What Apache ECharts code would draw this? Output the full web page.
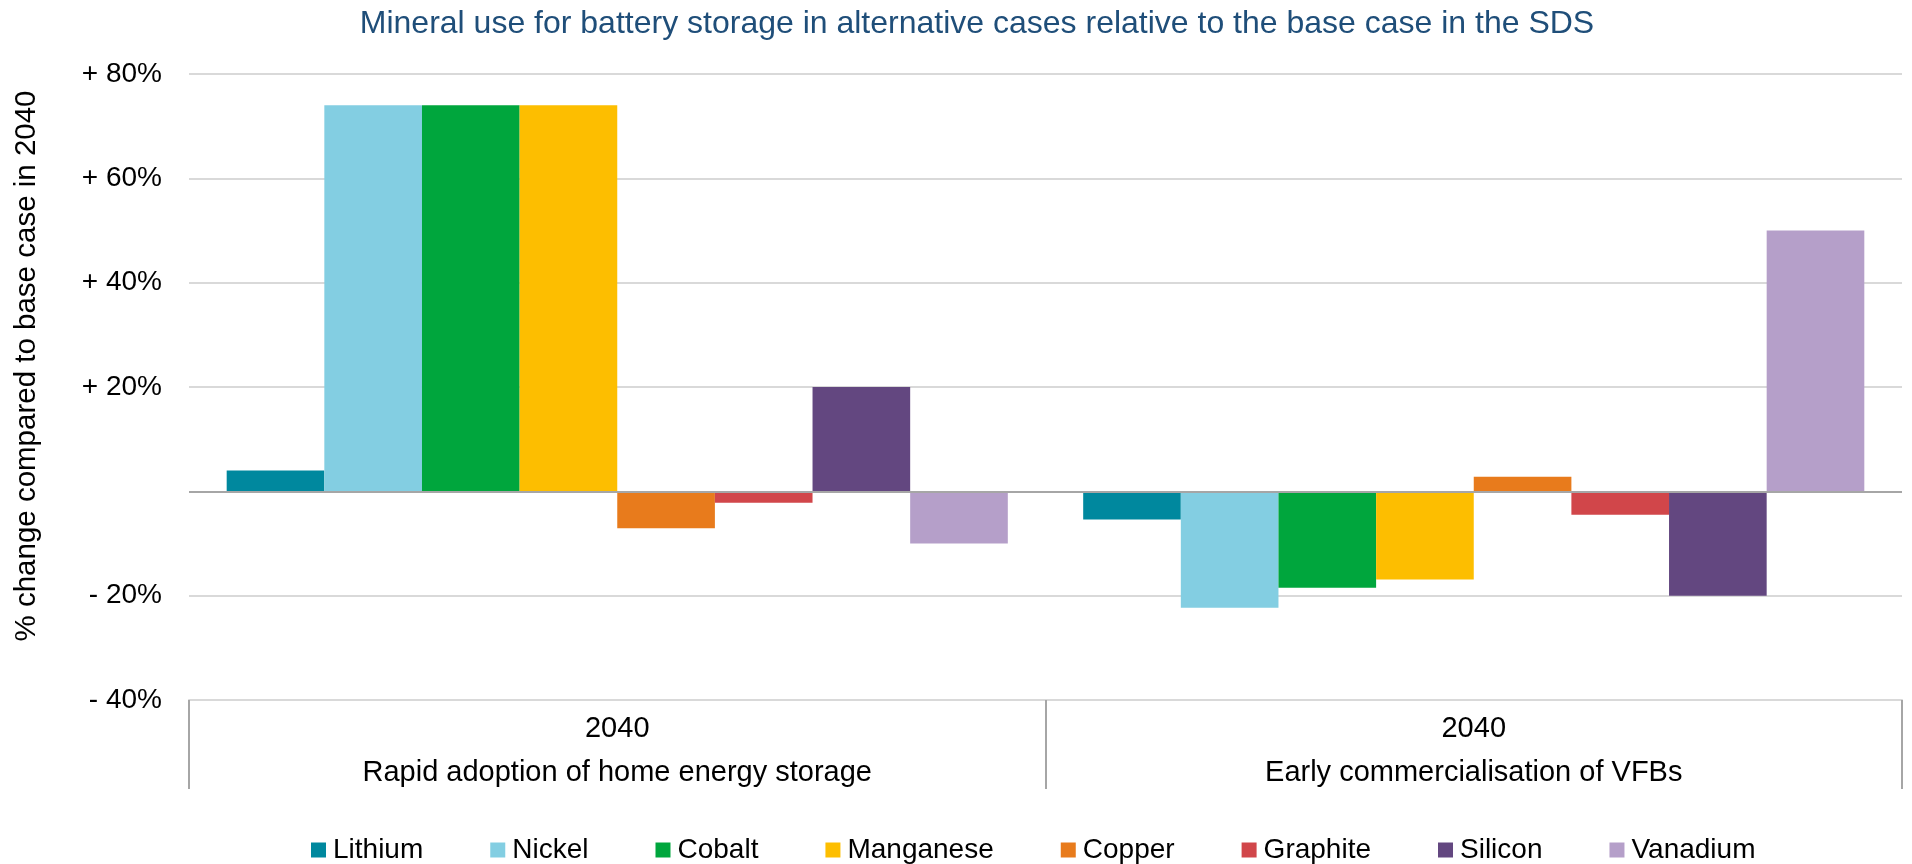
<!DOCTYPE html>
<html>
<head>
<meta charset="utf-8">
<script src="https://cdn.jsdelivr.net/npm/echarts@6/dist/echarts.min.js"></script>
<style>
html,body{margin:0;padding:0;background:#fff;}
#chart{width:1912px;height:864px;}
</style>
</head>
<body>
<div id="chart"></div>
<script>
const titleText = 'Mineral use for battery storage in alternative cases relative to the base case in the SDS';
const yAxisTitle = '% change compared to base case in 2040';
const caseNames = ['Rapid adoption of home energy storage', 'Early commercialisation of VFBs'];
const caseYears = ['2040', '2040'];
const seriesNames = ['Lithium', 'Nickel', 'Cobalt', 'Manganese', 'Copper', 'Graphite', 'Silicon', 'Vanadium'];
const lithium = [4, -5.4];
const nickel = [74, -22.3];
const cobalt = [74, -18.5];
const manganese = [74, -16.9];
const copper = [-7.1, 2.8];
const graphite = [-2.2, -4.5];
const silicon = [20, -20];
const vanadium = [-10, 50];
const yTicks = [-40, -20, 0, 20, 40, 60, 80];

const seriesValues = [lithium, nickel, cobalt, manganese, copper, graphite, silicon, vanadium];
const colors = ['#00889E', '#83CEE2', '#00A63D', '#FDBE00', '#E87B1C', '#D1464A', '#634780', '#B59FC9'];
const FONT = 'Arial, "Liberation Sans", sans-serif';

const chart = echarts.init(document.getElementById('chart'));
const series = seriesNames.map((name, i) => {
  const s = {
    name: name,
    type: 'bar',
    data: seriesValues[i],
    barGap: '0%',
    barCategoryGap: '8.8%',
    itemStyle: { color: colors[i] },
    emphasis: { disabled: true }
  };
  if (i === 0) {
    s.markLine = {
      silent: true,
      symbol: 'none',
      label: { show: false },
      lineStyle: { color: '#A6A6A6', width: 2, type: 'solid' },
      data: [{ yAxis: 0 }],
      z: 10
    };
  }
  return s;
});

chart.setOption({
  animation: false,
  color: colors,
  textStyle: { fontFamily: FONT },
  title: {
    text: titleText,
    left: 972,
    textAlign: 'center',
    top: 3,
    textStyle: { fontFamily: FONT, fontSize: 32, fontWeight: 'normal', color: '#1F4E79' }
  },
  graphic: [{
    type: 'text',
    x: 27,
    y: 366,
    rotation: Math.PI / 2,
    style: {
      text: yAxisTitle,
      fontFamily: FONT,
      fontSize: 29.5,
      fill: '#000',
      textAlign: 'center',
      textVerticalAlign: 'middle'
    }
  }],
  legend: {
    data: seriesNames,
    left: 306,
    top: 831,
    itemWidth: 15,
    itemHeight: 15,
    itemGap: 67,
    icon: 'rect',
    textStyle: { fontFamily: FONT, fontSize: 28, color: '#000', padding: [0, 0, 0, 2] }
  },
  grid: { left: 189, right: 10, top: 74, bottom: 164, containLabel: false },
  xAxis: {
    type: 'category',
    data: caseNames,
    axisLine: { show: true, onZero: false, lineStyle: { color: '#D9D9D9', width: 2 } },
    axisTick: { show: true, length: 89, interval: 0, lineStyle: { color: '#A6A6A6', width: 2 } },
    axisLabel: {
      interval: 0,
      margin: 7,
      lineHeight: 44,
      fontFamily: FONT,
      fontSize: 29,
      color: '#000',
      formatter: function (v, idx) { return caseYears[idx] + '\n' + v; }
    },
    splitLine: { show: false }
  },
  yAxis: {
    type: 'value',
    min: yTicks[0],
    max: yTicks[yTicks.length - 1],
    interval: 20,
    axisLine: { show: false },
    axisTick: { show: false },
    splitLine: { lineStyle: { color: '#D9D9D9', width: 2 } },
    axisLabel: {
      margin: 27,
      fontFamily: FONT,
      fontSize: 28,
      color: '#000',
      formatter: function (v) {
        if (v > 0) return '+ ' + v + '%';
        if (v < 0) return '- ' + (-v) + '%';
        return '';
      }
    }
  },
  series: series
});
</script>
</body>
</html>
